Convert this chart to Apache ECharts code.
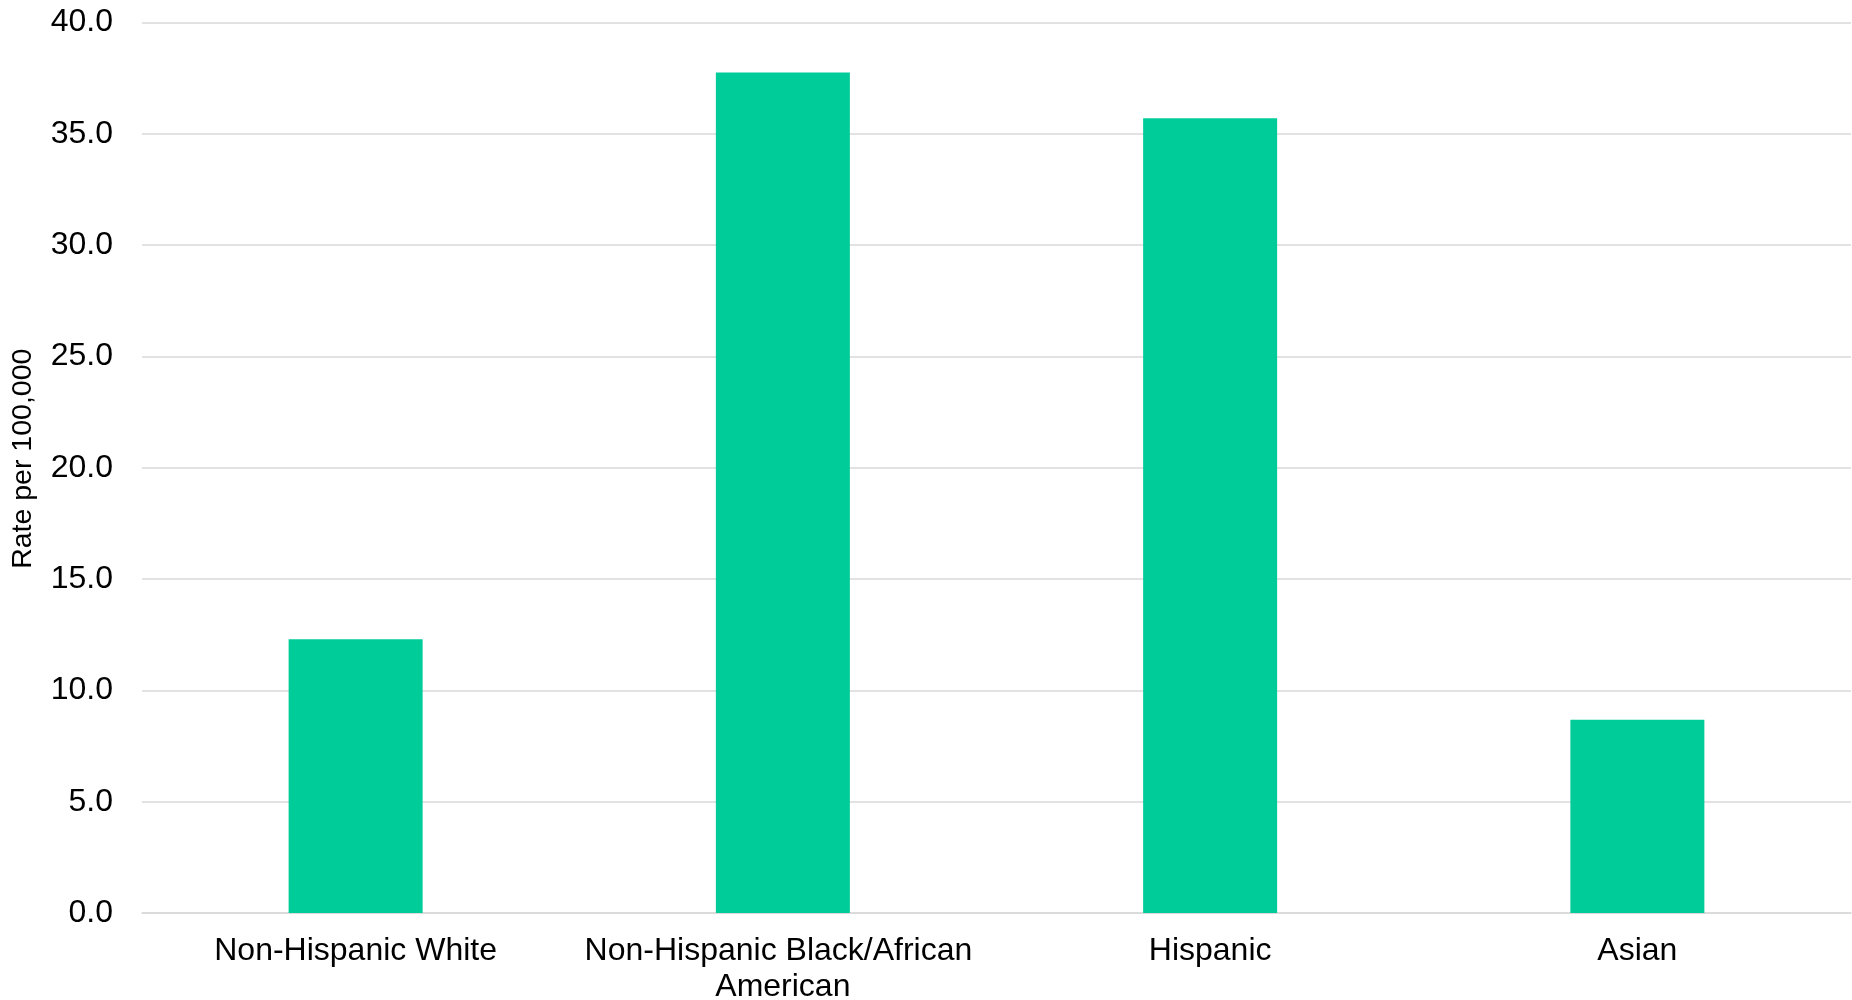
<!DOCTYPE html>
<html>
<head>
<meta charset="utf-8">
<script src="https://cdn.jsdelivr.net/npm/echarts@6/dist/echarts.min.js"></script>
<style>
  html, body { margin: 0; padding: 0; background: #fff; }
  #chart { width: 1852px; height: 1000px; }
</style>
</head>
<body>
<div id="chart"></div>
<script>
var categories = ['Non-Hispanic White', 'Non-Hispanic Black/African American', 'Hispanic', 'Asian'];
var rates = [12.3, 37.75, 35.7, 8.68];
var yTicks = { min: 0, max: 40, interval: 5 };

var chart = echarts.init(document.getElementById('chart'));
var font = '"Liberation Sans", Arial, sans-serif';

var option = {
  animation: false,
  grid: { left: 142, right: 1, top: 22.5, bottom: 87, containLabel: false, outerBoundsMode: 'none' },
  xAxis: {
    type: 'category',
    data: categories,
    axisTick: { show: false },
    axisLine: { show: true, lineStyle: { color: '#d9d9d9', width: 1.5 } },
    axisLabel: {
      interval: 0,
      color: '#000',
      fontFamily: font,
      fontSize: 32,
      lineHeight: 36,
      margin: 20,
      width: 415,
      overflow: 'break'
    }
  },
  yAxis: {
    type: 'value',
    min: yTicks.min,
    max: yTicks.max,
    interval: yTicks.interval,
    name: 'Rate per 100,000',
    nameLocation: 'middle',
    nameGap: 104,
    nameTextStyle: { color: '#000', fontFamily: font, fontSize: 28.5, padding: [0, 0, 0, 18] },
    axisLine: { show: false },
    axisTick: { show: false },
    splitLine: { lineStyle: { color: '#d9d9d9', width: 1.5 } },
    axisLabel: {
      color: '#000',
      fontFamily: font,
      fontSize: 32,
      margin: 29,
      formatter: function (v) { return v.toFixed(1); }
    }
  },
  series: [{
    type: 'bar',
    data: rates,
    barWidth: 134,
    itemStyle: { color: '#00cc99' }
  }]
};

option && chart.setOption(option);
</script>
</body>
</html>
